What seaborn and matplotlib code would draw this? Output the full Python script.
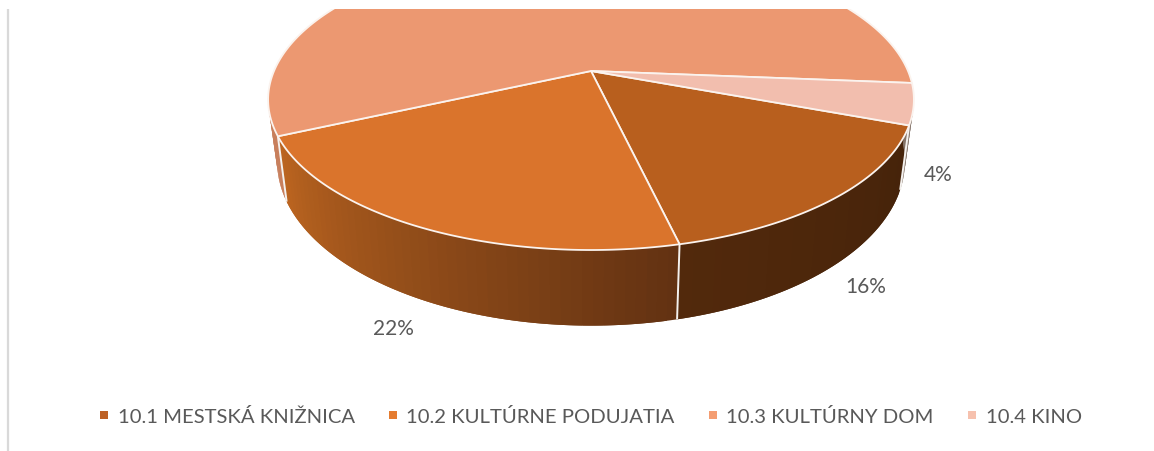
#!/usr/bin/env python3

import numpy as np
import matplotlib
matplotlib.use("Agg")
import matplotlib.pyplot as plt
from matplotlib.lines import Line2D
import seaborn as sns

# shares, unrounded so the slices line up (58 % label is cropped away)
categories = ["10.1 MESTSKÁ KNIŽNICA", "10.2 KULTÚRNE PODUJATIA", "10.3 KULTÚRNY DOM", "10.4 KINO"]
shares = [15.65, 21.85, 58.1, 4.4]

top_colors = ["#B85F1E", "#DA742C", "#EC9871", "#F2BEAE"]
# angle runs right to left along the front, so the dark end of the gradient comes first
wall_colors = [["#45230A", "#52290C"], ["#633212", "#BC6520"], ["#C87F5C", "#C87F5C"], ["#8A7A70", "#8A7A70"]]
legend_colors = ["#BD6125", "#E57C30", "#F49D72", "#F6C1AE"]

# the labels Excel placed outside the pie, no label for the big slice
label_pos = {0: (866, 286), 1: (393, 328), 3: (938.5, 174)}

# pie projection, fitted on the picture in pixels
CX, CY = 591, 71
RX, RY, PERSP = 317, 145, -0.19
BOTTOM_SCALE_X, BOTTOM_Y, BOTTOM_SCALE_Y = 0.972, 130.5, 1.09
START = 20.5


def rim(deg):
    t = np.radians(deg)
    w = 1 + PERSP * np.sin(t)
    return RX * np.cos(t) / w, RY * np.sin(t) / w


def top_rim(deg):
    dx, dy = rim(deg)
    return CX + dx, CY + dy


def bottom_rim(deg):
    dx, dy = rim(deg)
    return CX + BOTTOM_SCALE_X * dx, BOTTOM_Y + BOTTOM_SCALE_Y * dy


sns.set_theme(style="white")
plt.rcParams["font.family"] = ["Lato", "DejaVu Sans"]

fig = plt.figure(figsize=(11.54, 4.52), dpi=100)
ax = fig.add_axes([0, 0, 1, 442 / 452])
ax.set_xlim(0, 1154)
ax.set_ylim(451, 9)
ax.set_axis_off()

edges = START + np.cumsum([0] + shares) * 3.6

ax.axvline(8, color="#D9D9D9", lw=1.6)

# walls first, the top face goes over them
for i, share in enumerate(shares):
    a, b = edges[i], edges[i + 1]
    # only the front part of the ring can be seen
    if i == 2:
        b = min(b, 200)
    if i == 3:
        a = max(a, 360)
    steps = np.linspace(a, b, 50)
    pal = sns.blend_palette(wall_colors[i], len(steps) - 1)
    for k in range(len(steps) - 1):
        # each strip runs under the next one, so no seams show
        ang = np.linspace(steps[k], steps[min(k + 2, len(steps) - 1)], 4)
        xt, yt = top_rim(ang)
        xb, yb = bottom_rim(ang)
        ax.fill(np.r_[xt, xb[::-1]], np.r_[yt, yb[::-1]], facecolor=pal[k], lw=0, zorder=2)

# white seams between the walls
for e in edges[:3]:
    xt, yt = top_rim(e)
    xb, yb = bottom_rim(e)
    ax.plot([xt, xb], [yt, yb], color="#F4F1EE", lw=1.4, zorder=3, solid_capstyle="butt")

for i, share in enumerate(shares):
    ang = np.linspace(edges[i], edges[i + 1], 200)
    xs, ys = top_rim(ang)
    ax.fill(np.r_[CX, xs], np.r_[CY, ys], facecolor=top_colors[i], edgecolor="#FBF3EE", lw=1.3, zorder=4, joinstyle="round")

for i, pos in label_pos.items():
    ax.text(pos[0], pos[1], f"{round(shares[i])}%", ha="center", va="center", fontsize=15, color="#595959", zorder=5)

handles = [Line2D([], [], ls="none", marker="s", ms=5.6, mfc=c, mec=c, mew=0) for c in legend_colors]
ax.legend(
    handles,
    categories,
    loc="center",
    bbox_to_anchor=(590, 416.5),
    bbox_transform=ax.transData,
    ncol=4,
    frameon=False,
    fontsize=14.6,
    labelcolor="#595959",
    handlelength=0.6,
    handletextpad=0.35,
    columnspacing=1.6,
    borderpad=0,
)

plt.savefig("out.png", dpi=100)
